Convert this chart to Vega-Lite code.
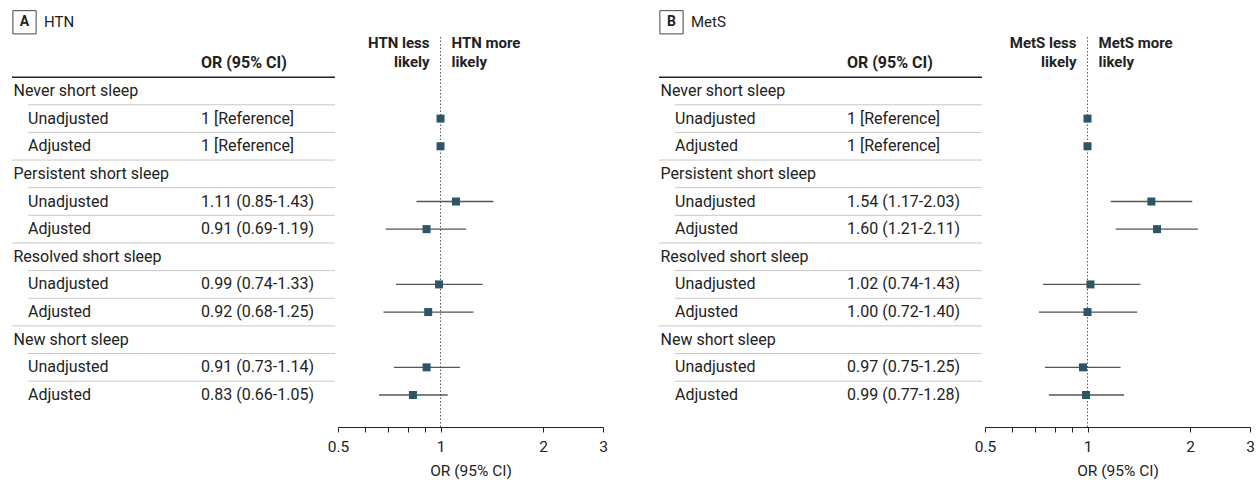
{
  "$schema": "https://vega.github.io/schema/vega-lite/v6.json",
  "padding": {"left": 10, "top": 8, "right": 5, "bottom": 0},
  "config": {
    "view": {"stroke": null},
    "font": "Roboto",
    "text": {"font": "Roboto", "fontSize": 16, "color": "#222", "baseline": "middle"}
  },
  "datasets": {
    "rows": [
      {"panel": "A", "row": "r1", "kind": "group", "label": "Never short sleep", "ortext": "", "or": null, "lo": null, "hi": null, "sep": "indent"},
      {"panel": "A", "row": "r2", "kind": "sub", "label": "Unadjusted", "ortext": "1 [Reference]", "or": 1, "lo": null, "hi": null, "sep": "indent"},
      {"panel": "A", "row": "r3", "kind": "sub", "label": "Adjusted", "ortext": "1 [Reference]", "or": 1, "lo": null, "hi": null, "sep": "full"},
      {"panel": "A", "row": "r4", "kind": "group", "label": "Persistent short sleep", "ortext": "", "or": null, "lo": null, "hi": null, "sep": "indent"},
      {"panel": "A", "row": "r5", "kind": "sub", "label": "Unadjusted", "ortext": "1.11 (0.85-1.43)", "or": 1.11, "lo": 0.85, "hi": 1.43, "sep": "indent"},
      {"panel": "A", "row": "r6", "kind": "sub", "label": "Adjusted", "ortext": "0.91 (0.69-1.19)", "or": 0.91, "lo": 0.69, "hi": 1.19, "sep": "full"},
      {"panel": "A", "row": "r7", "kind": "group", "label": "Resolved short sleep", "ortext": "", "or": null, "lo": null, "hi": null, "sep": "indent"},
      {"panel": "A", "row": "r8", "kind": "sub", "label": "Unadjusted", "ortext": "0.99 (0.74-1.33)", "or": 0.99, "lo": 0.74, "hi": 1.33, "sep": "indent"},
      {"panel": "A", "row": "r9", "kind": "sub", "label": "Adjusted", "ortext": "0.92 (0.68-1.25)", "or": 0.92, "lo": 0.68, "hi": 1.25, "sep": "full"},
      {"panel": "A", "row": "r10", "kind": "group", "label": "New short sleep", "ortext": "", "or": null, "lo": null, "hi": null, "sep": "indent"},
      {"panel": "A", "row": "r11", "kind": "sub", "label": "Unadjusted", "ortext": "0.91 (0.73-1.14)", "or": 0.91, "lo": 0.73, "hi": 1.14, "sep": "indent"},
      {"panel": "A", "row": "r12", "kind": "sub", "label": "Adjusted", "ortext": "0.83 (0.66-1.05)", "or": 0.83, "lo": 0.66, "hi": 1.05, "sep": "none"},
      {"panel": "B", "row": "r1", "kind": "group", "label": "Never short sleep", "ortext": "", "or": null, "lo": null, "hi": null, "sep": "indent"},
      {"panel": "B", "row": "r2", "kind": "sub", "label": "Unadjusted", "ortext": "1 [Reference]", "or": 1, "lo": null, "hi": null, "sep": "indent"},
      {"panel": "B", "row": "r3", "kind": "sub", "label": "Adjusted", "ortext": "1 [Reference]", "or": 1, "lo": null, "hi": null, "sep": "full"},
      {"panel": "B", "row": "r4", "kind": "group", "label": "Persistent short sleep", "ortext": "", "or": null, "lo": null, "hi": null, "sep": "indent"},
      {"panel": "B", "row": "r5", "kind": "sub", "label": "Unadjusted", "ortext": "1.54 (1.17-2.03)", "or": 1.54, "lo": 1.17, "hi": 2.03, "sep": "indent"},
      {"panel": "B", "row": "r6", "kind": "sub", "label": "Adjusted", "ortext": "1.60 (1.21-2.11)", "or": 1.60, "lo": 1.21, "hi": 2.11, "sep": "full"},
      {"panel": "B", "row": "r7", "kind": "group", "label": "Resolved short sleep", "ortext": "", "or": null, "lo": null, "hi": null, "sep": "indent"},
      {"panel": "B", "row": "r8", "kind": "sub", "label": "Unadjusted", "ortext": "1.02 (0.74-1.43)", "or": 1.02, "lo": 0.74, "hi": 1.43, "sep": "indent"},
      {"panel": "B", "row": "r9", "kind": "sub", "label": "Adjusted", "ortext": "1.00 (0.72-1.40)", "or": 1.00, "lo": 0.72, "hi": 1.40, "sep": "full"},
      {"panel": "B", "row": "r10", "kind": "group", "label": "New short sleep", "ortext": "", "or": null, "lo": null, "hi": null, "sep": "indent"},
      {"panel": "B", "row": "r11", "kind": "sub", "label": "Unadjusted", "ortext": "0.97 (0.75-1.25)", "or": 0.97, "lo": 0.75, "hi": 1.25, "sep": "indent"},
      {"panel": "B", "row": "r12", "kind": "sub", "label": "Adjusted", "ortext": "0.99 (0.77-1.28)", "or": 0.99, "lo": 0.77, "hi": 1.28, "sep": "none"}
    ],
    "heads": [
      {"panel": "A", "letter": "A", "title": "HTN", "col": "OR (95% CI)", "less": "HTN less\nlikely", "more": "HTN more\nlikely"},
      {"panel": "B", "letter": "B", "title": "MetS", "col": "OR (95% CI)", "less": "MetS less\nlikely", "more": "MetS more\nlikely"}
    ]
  },
  "spacing": 49,
  "hconcat": [
    {
      "bounds": "flush",
      "spacing": 3,
      "hconcat": [
        {
          "width": 323, "height": 390,
          "layer": [
            {
              "data": {"name": "rows"},
              "transform": [{"filter": "datum.panel == 'A' && datum.sep == 'indent'"}],
              "mark": {"type": "rule", "color": "#c8c8c8", "strokeWidth": 1},
              "encoding": {
                "y": {"field": "row", "type": "nominal", "bandPosition": 1, "axis": null, "scale": {"type": "band", "domain": ["h","r1","r2","r3","r4","r5","r6","r7","r8","r9","r10","r11","r12"], "paddingInner": 0, "paddingOuter": 0.555, "align": 0.407}},
                "x": {"value": 16}, "x2": {"value": 323}
              }
            },
            {
              "data": {"name": "rows"},
              "transform": [{"filter": "datum.panel == 'A' && datum.sep == 'full'"}],
              "mark": {"type": "rule", "color": "#c8c8c8", "strokeWidth": 1},
              "encoding": {
                "y": {"field": "row", "type": "nominal", "bandPosition": 1, "axis": null, "scale": {"type": "band", "domain": ["h","r1","r2","r3","r4","r5","r6","r7","r8","r9","r10","r11","r12"], "paddingInner": 0, "paddingOuter": 0.555, "align": 0.407}},
                "x": {"value": 0}, "x2": {"value": 323}
              }
            },
            {
              "data": {"name": "heads"},
              "transform": [{"filter": "datum.panel == 'A'"}],
              "mark": {"type": "rule", "color": "#222", "strokeWidth": 1.5},
              "encoding": {
                "y": {"datum": "h", "type": "nominal", "bandPosition": 1, "axis": null, "scale": {"type": "band", "domain": ["h","r1","r2","r3","r4","r5","r6","r7","r8","r9","r10","r11","r12"], "paddingInner": 0, "paddingOuter": 0.555, "align": 0.407}},
                "x": {"value": 0}, "x2": {"value": 323}
              }
            },
            {
              "data": {"name": "rows"},
              "transform": [{"filter": "datum.panel == 'A' && datum.kind == 'group'"}],
              "mark": {"type": "text", "align": "left"},
              "encoding": {
                "y": {"field": "row", "type": "nominal", "axis": null, "scale": {"type": "band", "domain": ["h","r1","r2","r3","r4","r5","r6","r7","r8","r9","r10","r11","r12"], "paddingInner": 0, "paddingOuter": 0.555, "align": 0.407}},
                "x": {"value": 1.5},
                "text": {"field": "label"}
              }
            },
            {
              "data": {"name": "rows"},
              "transform": [{"filter": "datum.panel == 'A' && datum.kind == 'sub'"}],
              "mark": {"type": "text", "align": "left"},
              "encoding": {
                "y": {"field": "row", "type": "nominal", "axis": null, "scale": {"type": "band", "domain": ["h","r1","r2","r3","r4","r5","r6","r7","r8","r9","r10","r11","r12"], "paddingInner": 0, "paddingOuter": 0.555, "align": 0.407}},
                "x": {"value": 16},
                "text": {"field": "label"}
              }
            },
            {
              "data": {"name": "rows"},
              "transform": [{"filter": "datum.panel == 'A' && datum.kind == 'sub'"}],
              "mark": {"type": "text", "align": "left"},
              "encoding": {
                "y": {"field": "row", "type": "nominal", "axis": null, "scale": {"type": "band", "domain": ["h","r1","r2","r3","r4","r5","r6","r7","r8","r9","r10","r11","r12"], "paddingInner": 0, "paddingOuter": 0.555, "align": 0.407}},
                "x": {"value": 189},
                "text": {"field": "ortext"}
              }
            },
            {
              "data": {"name": "heads"},
              "transform": [{"filter": "datum.panel == 'A'"}],
              "mark": {"type": "text", "align": "left", "fontWeight": "bold"},
              "encoding": {
                "y": {"datum": "h", "type": "nominal", "axis": null, "scale": {"type": "band", "domain": ["h","r1","r2","r3","r4","r5","r6","r7","r8","r9","r10","r11","r12"], "paddingInner": 0, "paddingOuter": 0.555, "align": 0.407}},
                "x": {"value": 189},
                "text": {"field": "col"}
              }
            },
            {
              "data": {"name": "heads"},
              "transform": [{"filter": "datum.panel == 'A'"}],
              "mark": {"type": "text", "align": "left", "fontSize": 15, "dy": -41},
              "encoding": {
                "y": {"datum": "h", "type": "nominal", "axis": null, "scale": {"type": "band", "domain": ["h","r1","r2","r3","r4","r5","r6","r7","r8","r9","r10","r11","r12"], "paddingInner": 0, "paddingOuter": 0.555, "align": 0.407}},
                "x": {"value": 32},
                "text": {"field": "title"}
              }
            },
            {
              "data": {"name": "heads"},
              "transform": [{"filter": "datum.panel == 'A'"}],
              "mark": {"type": "text", "align": "center", "fontWeight": "bold", "fontSize": 14, "dy": -41},
              "encoding": {
                "y": {"datum": "h", "type": "nominal", "axis": null, "scale": {"type": "band", "domain": ["h","r1","r2","r3","r4","r5","r6","r7","r8","r9","r10","r11","r12"], "paddingInner": 0, "paddingOuter": 0.555, "align": 0.407}},
                "x": {"value": 12.5},
                "text": {"field": "letter"}
              }
            },
            {
              "data": {"name": "heads"},
              "transform": [{"filter": "datum.panel == 'A'"}],
              "mark": {"type": "point", "shape": "square", "filled": false, "size": 540, "stroke": "#444", "strokeWidth": 1, "opacity": 1},
              "encoding": {
                "y": {"datum": "h", "type": "nominal", "axis": null, "scale": {"type": "band", "domain": ["h","r1","r2","r3","r4","r5","r6","r7","r8","r9","r10","r11","r12"], "paddingInner": 0, "paddingOuter": 0.555, "align": 0.407}},
                "yOffset": {"value": -27.2},
                "x": {"value": 12.5}
              }
            }
          ]
        },
        {
          "width": 265, "height": 390,
          "layer": [
            {
              "data": {"name": "heads"},
              "transform": [{"filter": "datum.panel == 'A'"}],
              "mark": {"type": "rule", "color": "#555", "strokeWidth": 1, "strokeDash": [1.5, 2]},
              "encoding": {
                "x": {"datum": 1, "type": "quantitative", "scale": {"type": "log", "domain": [0.5, 3], "nice": false}, "axis": {"values": [0.5, 0.6, 0.7, 0.8, 0.9, 1, 2, 3], "labelExpr": "datum.value == 0.5 || datum.value >= 1 ? toString(datum.value) : ''", "title": "OR (95% CI)", "grid": false, "tickSize": 5, "domainColor": "#222", "tickColor": "#222", "labelColor": "#222", "titleColor": "#222", "labelFontSize": 15.5, "titleFontSize": 15.5, "titleFontWeight": "normal", "labelPadding": 7, "titlePadding": 9, "labelFlush": false, "labelOverlap": false, "labelFont": "Roboto", "titleFont": "Roboto"}}
              }
            },
            {
              "data": {"name": "rows"},
              "transform": [{"filter": "datum.panel == 'A' && datum.lo != null"}],
              "mark": {"type": "rule", "color": "#555", "strokeWidth": 1.3},
              "encoding": {
                "y": {"field": "row", "type": "nominal", "axis": null, "scale": {"type": "band", "domain": ["h","r1","r2","r3","r4","r5","r6","r7","r8","r9","r10","r11","r12"], "paddingInner": 0, "paddingOuter": 0.555, "align": 0.407}},
                "x": {"field": "lo", "type": "quantitative", "scale": {"type": "log", "domain": [0.5, 3], "nice": false}, "axis": {"values": [0.5, 0.6, 0.7, 0.8, 0.9, 1, 2, 3], "labelExpr": "datum.value == 0.5 || datum.value >= 1 ? toString(datum.value) : ''", "title": "OR (95% CI)", "grid": false, "tickSize": 5, "domainColor": "#222", "tickColor": "#222", "labelColor": "#222", "titleColor": "#222", "labelFontSize": 15.5, "titleFontSize": 15.5, "titleFontWeight": "normal", "labelPadding": 7, "titlePadding": 9, "labelFlush": false, "labelOverlap": false, "labelFont": "Roboto", "titleFont": "Roboto"}},
                "x2": {"field": "hi"}
              }
            },
            {
              "data": {"name": "rows"},
              "transform": [{"filter": "datum.panel == 'A' && datum.or != null"}],
              "mark": {"type": "point", "shape": "square", "filled": true, "size": 64, "color": "#2e5566", "opacity": 1},
              "encoding": {
                "y": {"field": "row", "type": "nominal", "axis": null, "scale": {"type": "band", "domain": ["h","r1","r2","r3","r4","r5","r6","r7","r8","r9","r10","r11","r12"], "paddingInner": 0, "paddingOuter": 0.555, "align": 0.407}},
                "x": {"field": "or", "type": "quantitative", "scale": {"type": "log", "domain": [0.5, 3], "nice": false}, "axis": {"values": [0.5, 0.6, 0.7, 0.8, 0.9, 1, 2, 3], "labelExpr": "datum.value == 0.5 || datum.value >= 1 ? toString(datum.value) : ''", "title": "OR (95% CI)", "grid": false, "tickSize": 5, "domainColor": "#222", "tickColor": "#222", "labelColor": "#222", "titleColor": "#222", "labelFontSize": 15.5, "titleFontSize": 15.5, "titleFontWeight": "normal", "labelPadding": 7, "titlePadding": 9, "labelFlush": false, "labelOverlap": false, "labelFont": "Roboto", "titleFont": "Roboto"}}
              }
            },
            {
              "data": {"name": "heads"},
              "transform": [{"filter": "datum.panel == 'A'"}],
              "mark": {"type": "text", "align": "right", "fontWeight": "bold", "fontSize": 15, "dx": -11, "dy": -20, "lineBreak": "\n", "lineHeight": 19},
              "encoding": {
                "y": {"datum": "h", "type": "nominal", "axis": null, "scale": {"type": "band", "domain": ["h","r1","r2","r3","r4","r5","r6","r7","r8","r9","r10","r11","r12"], "paddingInner": 0, "paddingOuter": 0.555, "align": 0.407}},
                "x": {"datum": 1, "type": "quantitative", "scale": {"type": "log", "domain": [0.5, 3], "nice": false}, "axis": {"values": [0.5, 0.6, 0.7, 0.8, 0.9, 1, 2, 3], "labelExpr": "datum.value == 0.5 || datum.value >= 1 ? toString(datum.value) : ''", "title": "OR (95% CI)", "grid": false, "tickSize": 5, "domainColor": "#222", "tickColor": "#222", "labelColor": "#222", "titleColor": "#222", "labelFontSize": 15.5, "titleFontSize": 15.5, "titleFontWeight": "normal", "labelPadding": 7, "titlePadding": 9, "labelFlush": false, "labelOverlap": false, "labelFont": "Roboto", "titleFont": "Roboto"}},
                "text": {"field": "less"}
              }
            },
            {
              "data": {"name": "heads"},
              "transform": [{"filter": "datum.panel == 'A'"}],
              "mark": {"type": "text", "align": "left", "fontWeight": "bold", "fontSize": 15, "dx": 11, "dy": -20, "lineBreak": "\n", "lineHeight": 19},
              "encoding": {
                "y": {"datum": "h", "type": "nominal", "axis": null, "scale": {"type": "band", "domain": ["h","r1","r2","r3","r4","r5","r6","r7","r8","r9","r10","r11","r12"], "paddingInner": 0, "paddingOuter": 0.555, "align": 0.407}},
                "x": {"datum": 1, "type": "quantitative", "scale": {"type": "log", "domain": [0.5, 3], "nice": false}, "axis": {"values": [0.5, 0.6, 0.7, 0.8, 0.9, 1, 2, 3], "labelExpr": "datum.value == 0.5 || datum.value >= 1 ? toString(datum.value) : ''", "title": "OR (95% CI)", "grid": false, "tickSize": 5, "domainColor": "#222", "tickColor": "#222", "labelColor": "#222", "titleColor": "#222", "labelFontSize": 15.5, "titleFontSize": 15.5, "titleFontWeight": "normal", "labelPadding": 7, "titlePadding": 9, "labelFlush": false, "labelOverlap": false, "labelFont": "Roboto", "titleFont": "Roboto"}},
                "text": {"field": "more"}
              }
            }
          ]
        }
      ]
    },
    {
      "bounds": "flush",
      "spacing": 3,
      "hconcat": [
        {
          "width": 323, "height": 390,
          "layer": [
            {
              "data": {"name": "rows"},
              "transform": [{"filter": "datum.panel == 'B' && datum.sep == 'indent'"}],
              "mark": {"type": "rule", "color": "#c8c8c8", "strokeWidth": 1},
              "encoding": {
                "y": {"field": "row", "type": "nominal", "bandPosition": 1, "axis": null, "scale": {"type": "band", "domain": ["h","r1","r2","r3","r4","r5","r6","r7","r8","r9","r10","r11","r12"], "paddingInner": 0, "paddingOuter": 0.555, "align": 0.407}},
                "x": {"value": 16}, "x2": {"value": 323}
              }
            },
            {
              "data": {"name": "rows"},
              "transform": [{"filter": "datum.panel == 'B' && datum.sep == 'full'"}],
              "mark": {"type": "rule", "color": "#c8c8c8", "strokeWidth": 1},
              "encoding": {
                "y": {"field": "row", "type": "nominal", "bandPosition": 1, "axis": null, "scale": {"type": "band", "domain": ["h","r1","r2","r3","r4","r5","r6","r7","r8","r9","r10","r11","r12"], "paddingInner": 0, "paddingOuter": 0.555, "align": 0.407}},
                "x": {"value": 0}, "x2": {"value": 323}
              }
            },
            {
              "data": {"name": "heads"},
              "transform": [{"filter": "datum.panel == 'B'"}],
              "mark": {"type": "rule", "color": "#222", "strokeWidth": 1.5},
              "encoding": {
                "y": {"datum": "h", "type": "nominal", "bandPosition": 1, "axis": null, "scale": {"type": "band", "domain": ["h","r1","r2","r3","r4","r5","r6","r7","r8","r9","r10","r11","r12"], "paddingInner": 0, "paddingOuter": 0.555, "align": 0.407}},
                "x": {"value": 0}, "x2": {"value": 323}
              }
            },
            {
              "data": {"name": "rows"},
              "transform": [{"filter": "datum.panel == 'B' && datum.kind == 'group'"}],
              "mark": {"type": "text", "align": "left"},
              "encoding": {
                "y": {"field": "row", "type": "nominal", "axis": null, "scale": {"type": "band", "domain": ["h","r1","r2","r3","r4","r5","r6","r7","r8","r9","r10","r11","r12"], "paddingInner": 0, "paddingOuter": 0.555, "align": 0.407}},
                "x": {"value": 1.5},
                "text": {"field": "label"}
              }
            },
            {
              "data": {"name": "rows"},
              "transform": [{"filter": "datum.panel == 'B' && datum.kind == 'sub'"}],
              "mark": {"type": "text", "align": "left"},
              "encoding": {
                "y": {"field": "row", "type": "nominal", "axis": null, "scale": {"type": "band", "domain": ["h","r1","r2","r3","r4","r5","r6","r7","r8","r9","r10","r11","r12"], "paddingInner": 0, "paddingOuter": 0.555, "align": 0.407}},
                "x": {"value": 16},
                "text": {"field": "label"}
              }
            },
            {
              "data": {"name": "rows"},
              "transform": [{"filter": "datum.panel == 'B' && datum.kind == 'sub'"}],
              "mark": {"type": "text", "align": "left"},
              "encoding": {
                "y": {"field": "row", "type": "nominal", "axis": null, "scale": {"type": "band", "domain": ["h","r1","r2","r3","r4","r5","r6","r7","r8","r9","r10","r11","r12"], "paddingInner": 0, "paddingOuter": 0.555, "align": 0.407}},
                "x": {"value": 188},
                "text": {"field": "ortext"}
              }
            },
            {
              "data": {"name": "heads"},
              "transform": [{"filter": "datum.panel == 'B'"}],
              "mark": {"type": "text", "align": "left", "fontWeight": "bold"},
              "encoding": {
                "y": {"datum": "h", "type": "nominal", "axis": null, "scale": {"type": "band", "domain": ["h","r1","r2","r3","r4","r5","r6","r7","r8","r9","r10","r11","r12"], "paddingInner": 0, "paddingOuter": 0.555, "align": 0.407}},
                "x": {"value": 188},
                "text": {"field": "col"}
              }
            },
            {
              "data": {"name": "heads"},
              "transform": [{"filter": "datum.panel == 'B'"}],
              "mark": {"type": "text", "align": "left", "fontSize": 15, "dy": -41},
              "encoding": {
                "y": {"datum": "h", "type": "nominal", "axis": null, "scale": {"type": "band", "domain": ["h","r1","r2","r3","r4","r5","r6","r7","r8","r9","r10","r11","r12"], "paddingInner": 0, "paddingOuter": 0.555, "align": 0.407}},
                "x": {"value": 32},
                "text": {"field": "title"}
              }
            },
            {
              "data": {"name": "heads"},
              "transform": [{"filter": "datum.panel == 'B'"}],
              "mark": {"type": "text", "align": "center", "fontWeight": "bold", "fontSize": 14, "dy": -41},
              "encoding": {
                "y": {"datum": "h", "type": "nominal", "axis": null, "scale": {"type": "band", "domain": ["h","r1","r2","r3","r4","r5","r6","r7","r8","r9","r10","r11","r12"], "paddingInner": 0, "paddingOuter": 0.555, "align": 0.407}},
                "x": {"value": 12.5},
                "text": {"field": "letter"}
              }
            },
            {
              "data": {"name": "heads"},
              "transform": [{"filter": "datum.panel == 'B'"}],
              "mark": {"type": "point", "shape": "square", "filled": false, "size": 540, "stroke": "#444", "strokeWidth": 1, "opacity": 1},
              "encoding": {
                "y": {"datum": "h", "type": "nominal", "axis": null, "scale": {"type": "band", "domain": ["h","r1","r2","r3","r4","r5","r6","r7","r8","r9","r10","r11","r12"], "paddingInner": 0, "paddingOuter": 0.555, "align": 0.407}},
                "yOffset": {"value": -27.2},
                "x": {"value": 12.5}
              }
            }
          ]
        },
        {
          "width": 265, "height": 390,
          "layer": [
            {
              "data": {"name": "heads"},
              "transform": [{"filter": "datum.panel == 'B'"}],
              "mark": {"type": "rule", "color": "#555", "strokeWidth": 1, "strokeDash": [1.5, 2]},
              "encoding": {
                "x": {"datum": 1, "type": "quantitative", "scale": {"type": "log", "domain": [0.5, 3], "nice": false}, "axis": {"values": [0.5, 0.6, 0.7, 0.8, 0.9, 1, 2, 3], "labelExpr": "datum.value == 0.5 || datum.value >= 1 ? toString(datum.value) : ''", "title": "OR (95% CI)", "grid": false, "tickSize": 5, "domainColor": "#222", "tickColor": "#222", "labelColor": "#222", "titleColor": "#222", "labelFontSize": 15.5, "titleFontSize": 15.5, "titleFontWeight": "normal", "labelPadding": 7, "titlePadding": 9, "labelFlush": false, "labelOverlap": false, "labelFont": "Roboto", "titleFont": "Roboto"}}
              }
            },
            {
              "data": {"name": "rows"},
              "transform": [{"filter": "datum.panel == 'B' && datum.lo != null"}],
              "mark": {"type": "rule", "color": "#555", "strokeWidth": 1.3},
              "encoding": {
                "y": {"field": "row", "type": "nominal", "axis": null, "scale": {"type": "band", "domain": ["h","r1","r2","r3","r4","r5","r6","r7","r8","r9","r10","r11","r12"], "paddingInner": 0, "paddingOuter": 0.555, "align": 0.407}},
                "x": {"field": "lo", "type": "quantitative", "scale": {"type": "log", "domain": [0.5, 3], "nice": false}, "axis": {"values": [0.5, 0.6, 0.7, 0.8, 0.9, 1, 2, 3], "labelExpr": "datum.value == 0.5 || datum.value >= 1 ? toString(datum.value) : ''", "title": "OR (95% CI)", "grid": false, "tickSize": 5, "domainColor": "#222", "tickColor": "#222", "labelColor": "#222", "titleColor": "#222", "labelFontSize": 15.5, "titleFontSize": 15.5, "titleFontWeight": "normal", "labelPadding": 7, "titlePadding": 9, "labelFlush": false, "labelOverlap": false, "labelFont": "Roboto", "titleFont": "Roboto"}},
                "x2": {"field": "hi"}
              }
            },
            {
              "data": {"name": "rows"},
              "transform": [{"filter": "datum.panel == 'B' && datum.or != null"}],
              "mark": {"type": "point", "shape": "square", "filled": true, "size": 64, "color": "#2e5566", "opacity": 1},
              "encoding": {
                "y": {"field": "row", "type": "nominal", "axis": null, "scale": {"type": "band", "domain": ["h","r1","r2","r3","r4","r5","r6","r7","r8","r9","r10","r11","r12"], "paddingInner": 0, "paddingOuter": 0.555, "align": 0.407}},
                "x": {"field": "or", "type": "quantitative", "scale": {"type": "log", "domain": [0.5, 3], "nice": false}, "axis": {"values": [0.5, 0.6, 0.7, 0.8, 0.9, 1, 2, 3], "labelExpr": "datum.value == 0.5 || datum.value >= 1 ? toString(datum.value) : ''", "title": "OR (95% CI)", "grid": false, "tickSize": 5, "domainColor": "#222", "tickColor": "#222", "labelColor": "#222", "titleColor": "#222", "labelFontSize": 15.5, "titleFontSize": 15.5, "titleFontWeight": "normal", "labelPadding": 7, "titlePadding": 9, "labelFlush": false, "labelOverlap": false, "labelFont": "Roboto", "titleFont": "Roboto"}}
              }
            },
            {
              "data": {"name": "heads"},
              "transform": [{"filter": "datum.panel == 'B'"}],
              "mark": {"type": "text", "align": "right", "fontWeight": "bold", "fontSize": 15, "dx": -11, "dy": -20, "lineBreak": "\n", "lineHeight": 19},
              "encoding": {
                "y": {"datum": "h", "type": "nominal", "axis": null, "scale": {"type": "band", "domain": ["h","r1","r2","r3","r4","r5","r6","r7","r8","r9","r10","r11","r12"], "paddingInner": 0, "paddingOuter": 0.555, "align": 0.407}},
                "x": {"datum": 1, "type": "quantitative", "scale": {"type": "log", "domain": [0.5, 3], "nice": false}, "axis": {"values": [0.5, 0.6, 0.7, 0.8, 0.9, 1, 2, 3], "labelExpr": "datum.value == 0.5 || datum.value >= 1 ? toString(datum.value) : ''", "title": "OR (95% CI)", "grid": false, "tickSize": 5, "domainColor": "#222", "tickColor": "#222", "labelColor": "#222", "titleColor": "#222", "labelFontSize": 15.5, "titleFontSize": 15.5, "titleFontWeight": "normal", "labelPadding": 7, "titlePadding": 9, "labelFlush": false, "labelOverlap": false, "labelFont": "Roboto", "titleFont": "Roboto"}},
                "text": {"field": "less"}
              }
            },
            {
              "data": {"name": "heads"},
              "transform": [{"filter": "datum.panel == 'B'"}],
              "mark": {"type": "text", "align": "left", "fontWeight": "bold", "fontSize": 15, "dx": 11, "dy": -20, "lineBreak": "\n", "lineHeight": 19},
              "encoding": {
                "y": {"datum": "h", "type": "nominal", "axis": null, "scale": {"type": "band", "domain": ["h","r1","r2","r3","r4","r5","r6","r7","r8","r9","r10","r11","r12"], "paddingInner": 0, "paddingOuter": 0.555, "align": 0.407}},
                "x": {"datum": 1, "type": "quantitative", "scale": {"type": "log", "domain": [0.5, 3], "nice": false}, "axis": {"values": [0.5, 0.6, 0.7, 0.8, 0.9, 1, 2, 3], "labelExpr": "datum.value == 0.5 || datum.value >= 1 ? toString(datum.value) : ''", "title": "OR (95% CI)", "grid": false, "tickSize": 5, "domainColor": "#222", "tickColor": "#222", "labelColor": "#222", "titleColor": "#222", "labelFontSize": 15.5, "titleFontSize": 15.5, "titleFontWeight": "normal", "labelPadding": 7, "titlePadding": 9, "labelFlush": false, "labelOverlap": false, "labelFont": "Roboto", "titleFont": "Roboto"}},
                "text": {"field": "more"}
              }
            }
          ]
        }
      ]
    }
  ]
}
